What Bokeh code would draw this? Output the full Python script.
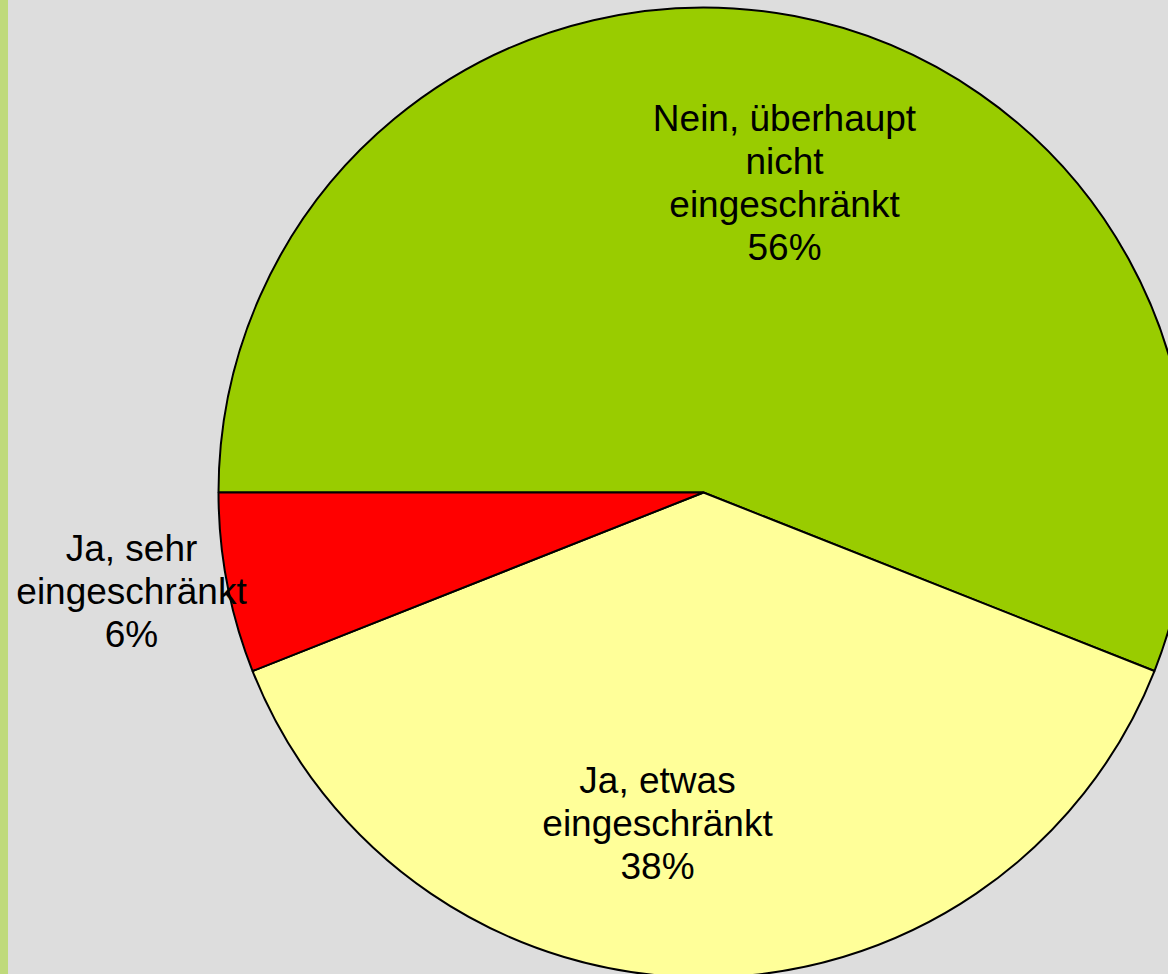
import math
from bokeh.plotting import figure
from bokeh.models import Range1d
from bokeh.core.properties import value
from bokeh.embed import file_html
from bokeh.resources import INLINE

# ---- data ----
categories = ["Nein, überhaupt nicht eingeschränkt", "Ja, etwas eingeschränkt", "Ja, sehr eingeschränkt"]
label_lines = [["Nein, überhaupt", "nicht", "eingeschränkt"],
               ["Ja, etwas", "eingeschränkt"],
               ["Ja, sehr", "eingeschränkt"]]
percent = [56, 38, 6]
colors = ["#99CC00", "#FFFF99", "#FF0000"]

# ---- layout (pixels) ----
W, H = 1168, 974
STRIP_W = 8
CX, CY, R = 703, H - 492, 485
label_offsets = [(81, 310), (-46, -331), (-572, -99)]  # label block centre relative to pie centre
LINE_H = 43
FONT = "Liberation Sans"
FS = "37px"

p = figure(width=W - STRIP_W, height=H, x_range=Range1d(STRIP_W, W), y_range=Range1d(0, H),
           output_backend="svg", toolbar_location=None, min_border=0)
p.axis.visible = False
p.grid.visible = False
p.background_fill_color = "#DDDDDD"
p.border_fill_color = "#DDDDDD"
p.outline_line_color = None

total = sum(percent)
start = math.pi
starts, ends = [], []
for v in percent:
    end = start - v / total * 2 * math.pi
    starts.append(end)
    ends.append(start)
    start = end

p.wedge(x=[CX] * len(percent), y=[CY] * len(percent), radius=R,
        start_angle=starts, end_angle=ends, direction="anticlock",
        fill_color=colors, line_color="black", line_width=2)

xs, ys, ts = [], [], []
for lines, pct, (dx, dy) in zip(label_lines, percent, label_offsets):
    all_lines = lines + [f"{pct}%"]
    n = len(all_lines)
    for i, t in enumerate(all_lines):
        xs.append(CX + dx)
        ys.append(CY + dy - (i - (n - 1) / 2) * LINE_H)
        ts.append(t)

p.text(x=xs, y=ys, text=ts, text_align="center", text_baseline="alphabetic",
       text_font=value(FONT), text_font_size=FS, text_color="black")

html = file_html(p, INLINE)
css = ("<style>html,body{margin:0;padding:0;overflow:hidden;background:#DDDDDD;}"
       "body{border-left:%dpx solid #BFDA7B;}</style>" % STRIP_W)
html = html.replace("<head>", "<head>" + css, 1)
open("out.html", "w").write(html)
